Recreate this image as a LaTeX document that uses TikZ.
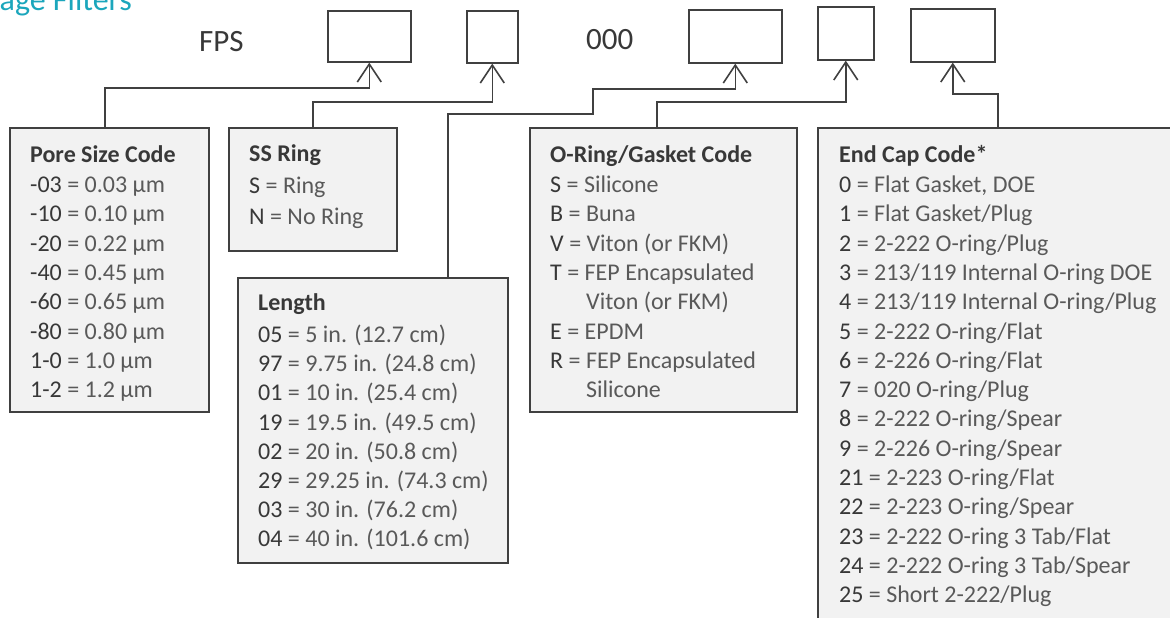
\documentclass[tikz,border=0pt]{standalone}
\usepackage{fontspec}
\setmainfont{Carlito}
\usetikzlibrary{arrows.meta,positioning}
\definecolor{edgegray}{HTML}{404040}
\definecolor{boxfill}{HTML}{F2F2F2}
\definecolor{codegray}{HTML}{383838}
\definecolor{descgray}{HTML}{595959}
\definecolor{titleteal}{HTML}{1BA6BC}
\tikzset{
  codebox/.style={
    shape = rectangle,
    draw = edgegray,
    fill = boxfill,
    line width = 1.6pt,
    inner sep = 0pt,
    anchor = north west
  },
}
\tikzset{
  slot/.style={
    shape = rectangle,
    draw = edgegray,
    line width = 1.6pt,
    inner sep = 0pt,
    anchor = north west
  },
}
\tikzset{
  link/.style={
    draw = edgegray,
    line width = 1.6pt,
    -{Straight Barb[length=18pt,width=24pt]}
  },
  heading/.style={
    anchor = base west,
    inner sep = 0pt,
    text = codegray,
    font = \fontsize{24}{29}\selectfont\bfseries
  },
  entry/.style={
    anchor = base west,
    inner sep = 0pt,
    text = descgray,
    font = \fontsize{24}{29}\selectfont
  },
  partno/.style={
    anchor = base west,
    inner sep = 0pt,
    text = codegray,
    font = \fontsize{31}{37}\selectfont
  }
}

\begin{document}
\begin{tikzpicture}[x=1pt, y=-1pt]
        \useasboundingbox (0,0) rectangle (1170,618);
        % page title, cut at the top edge
        \node[anchor=base east, inner sep=0pt, text=titleteal, font=\fontsize{32}{38}\selectfont] (pagetitle) at (132,11) {age Filters};
        % part number
        \node[partno] (fps) at (199,52) {FPS};
        \node[partno] (zeros) at (586,50) {000};
        \node[slot, minimum width=83pt, minimum height=51pt] (b1) at (327,10) {};
        \node[slot, minimum width=51pt, minimum height=52pt] (b2) at (466,10) {};
        \node[slot, minimum width=93pt, minimum height=53pt] (b3) at (688,9) {};
        \node[slot, minimum width=56pt, minimum height=53pt] (b4) at (817,6) {};
        \node[slot, minimum width=84pt, minimum height=53pt] (b5) at (910,8) {};
        % code boxes
        \node[codebox, minimum width=199pt, minimum height=284pt] (pore) at (9,127) {};
        \node[codebox, minimum width=168pt, minimum height=123pt] (ssring) at (228,127) {};
        \node[codebox, minimum width=270pt, minimum height=285pt] (length) at (237,277) {};
        \node[codebox, minimum width=267pt, minimum height=284pt] (oring) at (529,127) {};
        \node[codebox, minimum width=380pt, minimum height=520pt] (endcap) at (817,127) {};
        % connectors
        \draw[link] (105,0 |- pore.north) |- (b1.south |- 0,88) -- (b1.south);
        \draw[link] (ssring.north) |- (b2.south |- 0,102) -- (b2.south);
        \draw[link] (448,0 |- length.north) |- (593,114) |- (b3.south |- 0,89) -- (b3.south);
        \draw[link] (657,0 |- oring.north) |- (b4.south |- 0,102) -- (b4.south);
        \draw[link] (998,0 |- endcap.north) |- (b5.south |- 0,94) -- (b5.south);
        % pore size code
        \node[heading] (pore-title) at (30,162) {Pore Size Code};
        \foreach \c/\d [count=\i from 0] in {-03/0.03 µm, -10/0.10 µm, -20/0.22 µm, -40/0.45 µm, -60/0.65 µm, -80/0.80 µm, 1-0/1.0 µm, 1-2/1.2 µm}
          \node[entry] (pore-\i) at (30,192.5+29.3*\i) {{\color{codegray}\c} = \d};
        % ss ring
        \node[heading] (ssring-title) at (249,161) {SS Ring};
        \node[entry] (ssring-0) at (249,193) {{\color{codegray}S} = Ring};
        \node[entry] (ssring-1) at (249,224.5) {{\color{codegray}N} = No Ring};
        % length
        \node[heading] (length-title) at (258,310.5) {Length};
        \foreach \c/\d [count=\i from 0] in {05/5 in. (12.7 cm), 97/9.75 in. (24.8 cm), 01/10 in. (25.4 cm), 19/19.5 in. (49.5 cm), 02/20 in. (50.8 cm), 29/29.25 in. (74.3 cm), 03/30 in. (76.2 cm), 04/40 in. (101.6 cm)}
          \node[entry] (length-\i) at (258,342.5+29.2*\i) {{\color{codegray}\c} = \d};
        % o-ring / gasket code
        \node[heading] (oring-title) at (550,162) {O-Ring/Gasket Code};
        \foreach \c/\d/\i in {S/Silicone/0, B/Buna/1, V/{Viton (or FKM)}/2, T/{FEP Encapsulated}/3, E/EPDM/5, R/{FEP Encapsulated}/6}
          \node[entry] (oring-\i) at (550,192.5+29.3*\i) {{\color{codegray}\c} = \d};
        \node[entry] (oring-4) at (586,192.5+29.3*4) {Viton (or FKM)};
        \node[entry] (oring-7) at (586,192.5+29.3*7) {Silicone};
        % end cap code
        \node[heading] (endcap-title) at (839,162) {End Cap Code*};
        \foreach \c/\d [count=\i from 0] in {0/{Flat Gasket, DOE}, 1/{Flat Gasket/Plug}, 2/{2-222 O-ring/Plug}, 3/{213/119 Internal O-ring DOE}, 4/{213/119 Internal O-ring/Plug}, 5/{2-222 O-ring/Flat}, 6/{2-226 O-ring/Flat}, 7/{020 O-ring/Plug}, 8/{2-222 O-ring/Spear}, 9/{2-226 O-ring/Spear}, 21/{2-223 O-ring/Flat}, 22/{2-223 O-ring/Spear}, 23/{2-222 O-ring 3 Tab/Flat}, 24/{2-222 O-ring 3 Tab/Spear}, 25/{Short 2-222/Plug}}
          \node[entry] (endcap-\i) at (839,192.5+29.3*\i) {{\color{codegray}\c} = \d};
\end{tikzpicture}
\end{document}
